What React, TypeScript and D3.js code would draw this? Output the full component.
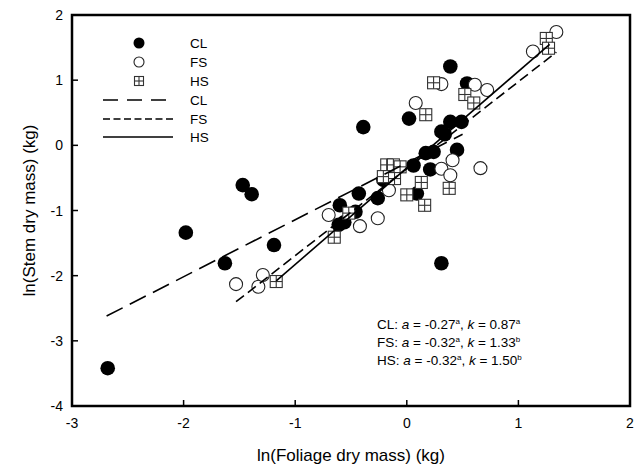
import React from "react";
import * as d3 from "d3";

const clPoints: [number, number][] = [
  [-2.68, -3.42], [-1.98, -1.34], [-1.47, -0.61], [-1.39, -0.75], [-1.19, -1.53],
  [-1.63, -1.81], [-0.6, -0.92], [-0.61, -1.22], [-0.56, -1.18], [-0.46, -1.02],
  [-0.43, -0.74], [-0.26, -0.81], [-0.21, -0.53], [0.06, -0.31], [0.09, -0.74],
  [0.21, -0.37], [0.17, -0.12], [0.24, -0.1], [0.45, -0.07], [0.31, -1.81],
  [-0.39, 0.28], [0.02, 0.41], [0.39, 1.21], [0.54, 0.95], [0.31, 0.21],
  [0.34, 0.17], [0.39, 0.36], [0.49, 0.36],
];
const fsPoints: [number, number][] = [
  [-1.53, -2.13], [-1.33, -2.17], [-1.29, -1.99], [-0.7, -1.07], [-0.42, -1.24],
  [-0.26, -1.12], [-0.16, -0.69], [0.31, -0.36], [0.41, -0.23], [0.39, -0.46],
  [0.66, -0.35], [0.08, 0.65], [0.31, 0.94], [0.61, 0.93], [0.72, 0.85],
  [1.13, 1.44], [1.34, 1.74],
];
const hsPoints: [number, number][] = [
  [-1.17, -2.09], [-0.65, -1.41], [-0.52, -1.04], [-0.18, -0.3], [-0.12, -0.3],
  [-0.06, -0.33], [-0.21, -0.48], [-0.11, -0.51], [0.0, -0.76], [0.13, -0.57],
  [0.16, -0.92], [0.38, -0.66], [0.17, 0.47], [0.24, 0.96], [0.52, 0.78],
  [0.6, 0.65], [1.25, 1.64], [1.27, 1.49],
];
const clLine: [number, number][] = [[-2.69, -2.62], [0.5, 0.17]];
const fsLine: [number, number][] = [[-1.53, -2.4], [1.34, 1.43]];
const hsLine: [number, number][] = [[-1.17, -2.08], [1.28, 1.55]];

const xTicks = [-3, -2, -1, 0, 1, 2];
const yTicks = [-4, -3, -2, -1, 0, 1, 2];
const legendLabels = ["CL", "FS", "HS", "CL", "FS", "HS"];
const annotations = [
  { g: "CL", a: "-0.27", as: "a", k: "0.87", ks: "a" },
  { g: "FS", a: "-0.32", as: "a", k: "1.33", ks: "b" },
  { g: "HS", a: "-0.32", as: "a", k: "1.50", ks: "b" },
];

const W = 640, H = 469;
const L = 72, R = 630, T = 15, B = 406;
const font = "Liberation Sans, Arial, sans-serif";

function Square({ cx, cy, s }: { cx: number; cy: number; s: number }) {
  const h = s / 2;
  return (
    <g stroke="#333" strokeWidth={1.1} fill="white">
      <rect x={cx - h} y={cy - h} width={s} height={s} />
      <line x1={cx} x2={cx} y1={cy - h} y2={cy + h} />
      <line x1={cx - h} x2={cx + h} y1={cy} y2={cy} />
    </g>
  );
}

export default function App() {
  const x = d3.scaleLinear().domain([-3, 2]).range([L, R]);
  const y = d3.scaleLinear().domain([-4, 2]).range([B, T]);
  const line = d3.line<[number, number]>().x((d) => x(d[0])).y((d) => y(d[1]));
  const legY = [43, 62, 81, 100, 119, 137];
  const dashes = ["18,8", "10,5", ""];
  const legDashes = ["15,9", "7,3.5", ""];
  const lines = [clLine, fsLine, hsLine];
  return (
    <svg width={W} height={H} style={{ position: "absolute", left: 0, top: 0 }} fontFamily={font}>
      <rect width={W} height={H} fill="white" />
      {clPoints.map((p, i) => (
        <circle key={"c" + i} cx={x(p[0])} cy={y(p[1])} r={7.3} fill="black" />
      ))}
      {fsPoints.map((p, i) => (
        <circle key={"f" + i} cx={x(p[0])} cy={y(p[1])} r={6.5} fill="white" stroke="#222" strokeWidth={1.1} />
      ))}
      {hsPoints.map((p, i) => (
        <Square key={"h" + i} cx={x(p[0])} cy={y(p[1])} s={12} />
      ))}
      {lines.map((l, i) => (
        <path key={"l" + i} d={line(l) || ""} fill="none" stroke="black" strokeWidth={1.6} strokeDasharray={dashes[i]} />
      ))}
      {/* frame */}
      <rect x={L} y={T} width={R - L} height={B - T} fill="none" stroke="black" strokeWidth={2.5} />
      {xTicks.map((t) => (
        <g key={"xt" + t}>
          <line x1={x(t)} x2={x(t)} y1={B} y2={B - 6} stroke="black" strokeWidth={1.5} />
          <text x={x(t)} y={428} textAnchor="middle" fontSize={14}>{t}</text>
        </g>
      ))}
      {yTicks.map((t) => (
        <g key={"yt" + t}>
          <line x1={L} x2={L + 6} y1={y(t)} y2={y(t)} stroke="black" strokeWidth={1.5} />
          <text x={63} y={y(t) + 5} textAnchor="end" fontSize={14}>{t}</text>
        </g>
      ))}
      <text x={(L + R) / 2} y={461} textAnchor="middle" fontSize={17}>ln(Foliage dry mass) (kg)</text>
      <text transform={`translate(35,${(T + B) / 2}) rotate(-90)`} textAnchor="middle" fontSize={17}>ln(Stem dry mass) (kg)</text>
      {/* legend */}
      <circle cx={139} cy={legY[0]} r={5.5} fill="black" />
      <circle cx={139} cy={legY[1]} r={5} fill="white" stroke="#222" strokeWidth={1.1} />
      <Square cx={139} cy={legY[2]} s={9} />
      {[0, 1, 2].map((i) => (
        <line key={"ll" + i} x1={103} x2={i === 0 ? 167 : 173} y1={legY[3 + i]} y2={legY[3 + i]} stroke="black" strokeWidth={1.6} strokeDasharray={legDashes[i]} />
      ))}
      {legendLabels.map((s, i) => (
        <text key={"lt" + i} x={190} y={legY[i] + 5} fontSize={13.5}>{s}</text>
      ))}
      {/* annotation */}
      {annotations.map((a, i) => (
        <text key={"an" + i} x={377} y={329 + i * 18} fontSize={13.5}>
          {a.g}: <tspan fontStyle="italic">a</tspan> = {a.a}
          <tspan dy={-5} fontSize={8}>{a.as}</tspan>
          <tspan dy={5}>, </tspan>
          <tspan fontStyle="italic">k</tspan> = {a.k}
          <tspan dy={-5} fontSize={8}>{a.ks}</tspan>
        </text>
      ))}
    </svg>
  );
}
